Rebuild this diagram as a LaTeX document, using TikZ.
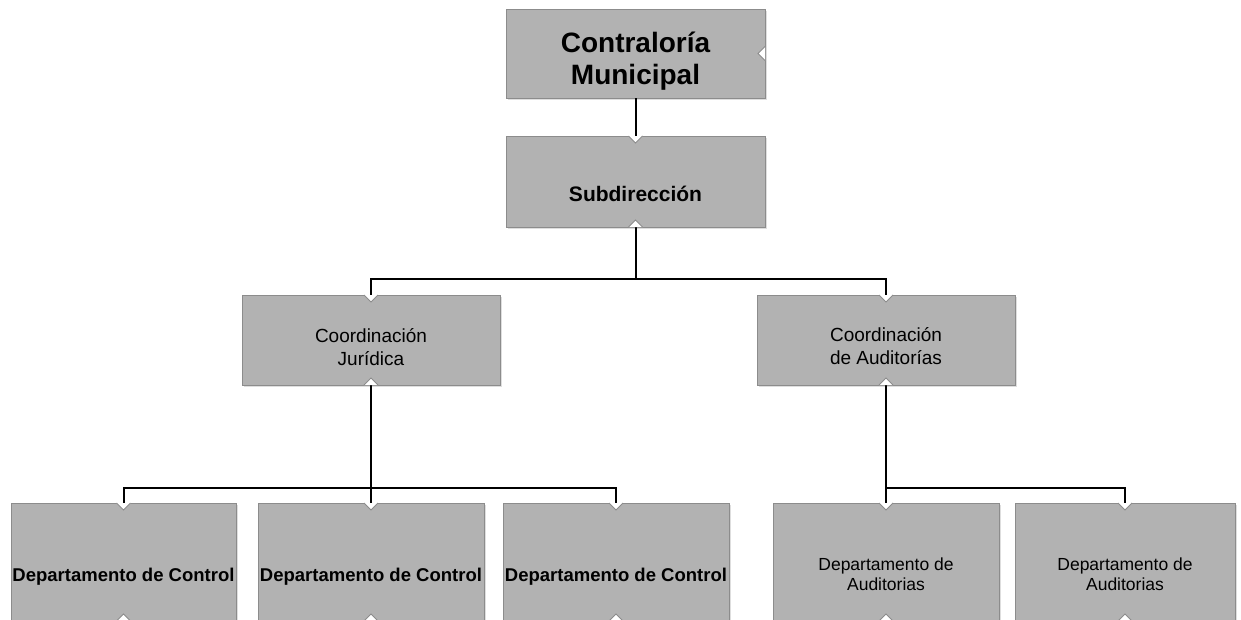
\documentclass[tikz,border=0pt]{standalone}
\usepackage{fontspec}
\setmainfont{Liberation Sans}
\usetikzlibrary{calc,shadows}
\definecolor{boxfill}{RGB}{178,178,178}
\definecolor{boxline}{RGB}{140,140,140}
\definecolor{shadowc}{RGB}{222,222,222}
\tikzset{
  orgbox/.style={draw=boxline, fill=boxfill, line width=0.8pt, inner sep=0pt, outer sep=0pt,
    drop shadow={shadow xshift=2pt, shadow yshift=-2pt, fill=shadowc, opacity=1}},
  conn/.style={draw=black, line width=2pt, line join=miter},
  lbl/.style={align=center, inner sep=0pt, text=black},
  notchd/.pic={\fill[white] (-7,0) -- (7,0) -- (0,7) -- cycle;
               \draw[boxline, line width=0.8pt] (-7,0) -- (0,7) -- (7,0);},
  notchu/.pic={\fill[white] (-7,0) -- (7,0) -- (0,-7) -- cycle;
               \draw[boxline, line width=0.8pt] (-7,0) -- (0,-7) -- (7,0);},
  notchl/.pic={\fill[white] (0,-7) -- (0,7) -- (-7,0) -- cycle;
               \draw[boxline, line width=0.8pt] (0,-7) -- (-7,0) -- (0,7);}
}
\begin{document}
\begin{tikzpicture}[x=1pt,y=-1pt]
\useasboundingbox (0,0) rectangle (1241,619);
\clip (0,0) rectangle (1241,619);
\fill[white] (0,0) rectangle (1241,619);

% boxes
\node[orgbox, minimum width=259pt, minimum height=89pt] (top) at (635.5,53.5) {};
\node[orgbox, minimum width=259pt, minimum height=91pt] (sub) at (635.5,181.5) {};
\node[orgbox, minimum width=258pt, minimum height=90pt] (cj) at (371,340) {};
\node[orgbox, minimum width=258pt, minimum height=90pt] (ca) at (886,340) {};
\node[orgbox, minimum width=225pt, minimum height=118pt] (d1) at (123.5,562) {};
\node[orgbox, minimum width=226pt, minimum height=118pt] (d2) at (371,562) {};
\node[orgbox, minimum width=226pt, minimum height=118pt] (d3) at (616,562) {};
\node[orgbox, minimum width=226pt, minimum height=118pt] (d4) at (886,562) {};
\node[orgbox, minimum width=220pt, minimum height=118pt] (d5) at (1125,562) {};

% texts
\node[lbl, font=\fontsize{28}{32}\selectfont\bfseries] (ttop) at (635.5,61) {Contraloría\\Municipal};
\node[lbl, font=\fontsize{21}{25}\selectfont\bfseries] (tsub) at (635.5,194) {Subdirección};
\node[lbl, font=\fontsize{19}{23}\selectfont] (tcj) at (371,347) {Coordinación\\Jurídica};
\node[lbl, font=\fontsize{19}{23}\selectfont] (tca) at (886,346) {Coordinación\\de Auditorías};
\node[lbl, font=\fontsize{18.5}{22}\selectfont\bfseries] (td1) at (123.5,577) {Departamento de Control};
\node[lbl, font=\fontsize{18.5}{22}\selectfont\bfseries] (td2) at (371,577) {Departamento de Control};
\node[lbl, font=\fontsize{18.5}{22}\selectfont\bfseries] (td3) at (616,577) {Departamento de Control};
\node[lbl, font=\fontsize{17.5}{20}\selectfont] (td4) at (886,574) {Departamento de\\Auditorias};
\node[lbl, font=\fontsize{17.5}{20}\selectfont] (td5) at (1125,574) {Departamento de\\Auditorias};

% connectors
\coordinate (bus1) at ($(sub.south)+(0,52)$);
\coordinate (bus2) at ($(cj.south)+(0,103)$);
\coordinate (bus3) at ($(ca.south)+(0,103)$);
\draw[conn] (top.south) -- (sub.north);
\draw[conn] (sub.south) -- (bus1) -| (cj.north);
\draw[conn] (bus1) -| (ca.north);
\draw[conn] (cj.south) -- (bus2) -| (d1.north);
\draw[conn] (bus2) -| (d3.north);
\draw[conn] (bus2) -- (d2.north);
\draw[conn] (ca.south) -- (bus3) -- (d4.north);
\draw[conn] (bus3) -| (d5.north);

% notches
\pic at (top.east) {notchl};
\pic at (sub.north) {notchd};
\pic at (sub.south) {notchu};
\pic at (cj.north) {notchd};
\pic at (cj.south) {notchu};
\pic at (ca.north) {notchd};
\pic at (ca.south) {notchu};
\foreach \n in {d1,d2,d3,d4,d5}{
  \pic at (\n.north) {notchd};
  \pic at (\n.south) {notchu};
}
\end{tikzpicture}
\end{document}
